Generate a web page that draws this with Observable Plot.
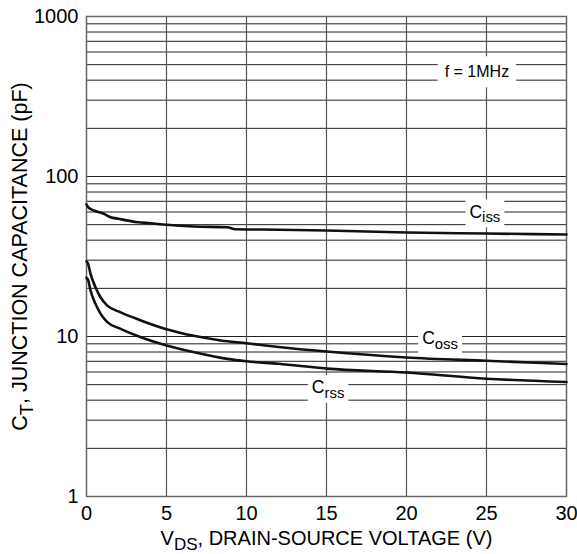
<!DOCTYPE html>
<html><head><meta charset="utf-8">
<script src="https://cdn.jsdelivr.net/npm/d3@7"></script>
<script src="https://cdn.jsdelivr.net/npm/@observablehq/plot@0.6"></script>
<style>body{margin:0;background:#fff} #chart svg{display:block}</style>
</head><body><div id="chart"></div>
<script>
// Series (V_DS in volts, capacitance in pF)
const vCiss = [0, 0.1, 0.46, 1.08, 1.5, 2.0, 3.2, 4.0, 5.0, 6.7, 8.8, 9.3, 11, 15, 20, 25, 30];
const ciss  = [67, 64.3, 61.3, 58.5, 55.7, 54.4, 51.8, 51, 49.9, 48.7, 48.2, 46.8, 46.6, 46, 44.7, 44, 43.4];
const vCoss = [0, 0.1, 0.25, 0.56, 0.875, 1.3, 2.1, 3.4, 5, 6.7, 8.4, 10, 12, 15, 20, 25, 30];
const coss  = [29.5, 28.5, 24.7, 20.3, 17.6, 15.6, 14.2, 12.6, 11.1, 10.1, 9.45, 9.08, 8.6, 8.05, 7.4, 7.05, 6.73];
const vCrss = [0, 0.1, 0.25, 0.56, 0.875, 1.3, 2.1, 3.4, 5, 6.7, 8.8, 10, 12, 15, 20, 25, 30];
const crss  = [23.3, 22.6, 19.4, 16, 13.9, 12.3, 11.2, 9.9, 8.8, 8.0, 7.25, 7.0, 6.75, 6.3, 5.95, 5.45, 5.19];

// Axes / grid
const xTicks = [0, 5, 10, 15, 20, 25, 30];
const yTicks = [1, 10, 100, 1000];
const xGrid = [5, 10, 15, 20, 25];
const yGrid = [2,3,4,5,6,7,8,9,10,20,30,40,50,60,70,80,90,100,200,300,400,500,600,700,800,900];

// Curve labels (anchored in data coordinates)
const curveLabelText = ["C|iss", "C|oss", "C|rss"];
const curveLabelV = [24.9, 22.1, 15.1];
const curveLabelC = [60, 9.7, 4.8];
const noteText = ["f = 1MHz"];
const noteV = [24.4];
const noteC = [449];

const xLabel = "V|DS|, DRAIN-SOURCE VOLTAGE (V)";
const yLabel = "C|T|, JUNCTION CAPACITANCE (pF)";

const rows = [
  ...vCiss.map((v, i) => ({v, c: ciss[i], s: "Ciss"})),
  ...vCoss.map((v, i) => ({v, c: coss[i], s: "Coss"})),
  ...vCrss.map((v, i) => ({v, c: crss[i], s: "Crss"}))
];

const font = "'Liberation Sans', Arial, Helvetica, sans-serif";

const chart = Plot.plot({
  width: 577, height: 554,
  marginLeft: 86, marginRight: 11, marginTop: 16, marginBottom: 58,
  style: {fontFamily: font, fontSize: "20px", color: "#000", background: "#fff"},
  x: {domain: [0, 30], label: null},
  y: {type: "log", domain: [1, 1000], label: null},
  marks: [
    Plot.ruleY(yGrid, {stroke: "#222", strokeWidth: 1}),
    Plot.ruleX(xGrid, {stroke: "#555", strokeWidth: 1.2}),
    Plot.frame({stroke: "#666", strokeWidth: 1.5}),
    Plot.axisX({ticks: xTicks, tickSize: 0, tickPadding: 9, fontSize: 20, label: null, tickFormat: d => String(d)}),
    Plot.axisY({ticks: yTicks, tickSize: 0, tickPadding: 8, fontSize: 20, label: null, tickFormat: d => String(d)}),
    Plot.line(rows, {x: "v", y: "c", z: "s", stroke: "#111", strokeWidth: 2.6, curve: "monotone-x"}),
    Plot.text(curveLabelText, {x: (d, i) => curveLabelV[i], y: (d, i) => curveLabelC[i], text: d => d, fontSize: 17.5, textAnchor: "middle"}),
    Plot.text(noteText, {x: (d, i) => noteV[i], y: (d, i) => noteC[i], text: d => d, fontSize: 16, textAnchor: "middle"}),
    Plot.text([yLabel], {frameAnchor: "left", dx: -66, rotate: -90, fontSize: 21.5, textAnchor: "middle", lineAnchor: "middle"}),
    Plot.text([xLabel], {frameAnchor: "bottom", dy: 42, fontSize: 20, textAnchor: "middle", lineAnchor: "middle"})
  ]
});
document.getElementById("chart").append(chart);

// Subscripts and white label boxes
const NS = "http://www.w3.org/2000/svg";
d3.select(chart).selectAll("text").each(function () {
  const t = this.textContent;
  if (t.includes("|")) {
    const parts = t.split("|");
    const fs = parseFloat(this.getAttribute("font-size") || getComputedStyle(this).fontSize);
    this.textContent = "";
    const a = document.createElementNS(NS, "tspan"); a.textContent = parts[0]; this.appendChild(a);
    const b = document.createElementNS(NS, "tspan"); b.textContent = parts[1];
    b.setAttribute("font-size", (fs * 0.85).toFixed(1)); b.setAttribute("dy", (fs * 0.27).toFixed(1));
    this.appendChild(b);
    if (parts[2]) {
      const c = document.createElementNS(NS, "tspan"); c.textContent = parts[2];
      c.setAttribute("dy", (-fs * 0.27).toFixed(1)); this.appendChild(c);
    }
  }
});
d3.select(chart).selectAll("text").each(function () {
  const t = this.textContent;
  const isCurve = ["Ciss", "Coss", "Crss"].includes(t);
  const isNote = noteText.includes(t);
  if (!isCurve && !isNote) return;
  const bb = this.getBBox();
  const px = isNote ? 7 : 4, py = isNote ? 7 : 2;
  const r = document.createElementNS(NS, "rect");
  const tr = this.getAttribute("transform");
  if (tr) r.setAttribute("transform", tr);
  r.setAttribute("x", bb.x - px); r.setAttribute("y", bb.y - py);
  r.setAttribute("width", bb.width + 2 * px); r.setAttribute("height", bb.height + 2 * py);
  r.setAttribute("fill", "#fff");
  this.parentNode.insertBefore(r, this);
});
</script>
</body></html>
